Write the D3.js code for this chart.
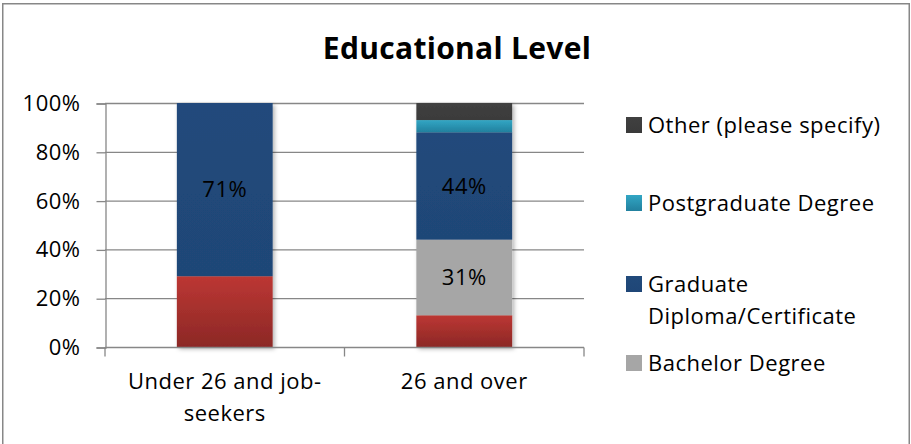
<!DOCTYPE html>
<html>
<head>
<meta charset="utf-8">
<script src="https://cdn.jsdelivr.net/npm/d3@7"></script>
<style>
  html, body { margin: 0; padding: 0; background: #fff; }
  svg { display: block; font-family: "Open Sans", "Noto Sans", sans-serif; }
</style>
</head>
<body>
<svg id="chart" width="911" height="444"></svg>
<script>
// Categories and shares (percent) for each qualification level
const categories = ["Under 26 and job-seekers", "26 and over"];
const categoryLines = [["Under 26 and job-", "seekers"], ["26 and over"]];
const seriesNames = ["High School", "Bachelor Degree", "Graduate Diploma/Certificate", "Postgraduate Degree", "Other (please specify)"];
const highSchool = [29, 13];
const bachelor = [0, 31];
const graduate = [71, 44];
const postgraduate = [0, 5];
const other = [0, 7];
const yTicks = [0, 20, 40, 60, 80, 100];
const legendNames = ["Other (please specify)", "Postgraduate Degree", "Graduate Diploma/Certificate", "Bachelor Degree"];
const labelledSeries = ["Bachelor Degree", "Graduate Diploma/Certificate"];

const seriesValues = [highSchool, bachelor, graduate, postgraduate, other];
const rows = categories.map((c, i) => {
  const r = { category: c };
  seriesNames.forEach((s, k) => { r[s] = seriesValues[k][i]; });
  return r;
});

const FS = 22;       // body text size
const LS = 0.5;      // body letter spacing

const svg = d3.select("#chart");
const defs = svg.append("defs");

// Colour ramps for each series (top to bottom of a segment)
const palette = {
  "High School": ["#bc3733", "#8c2826"],
  "Bachelor Degree": ["#a6a6a6", "#a6a6a6"],
  "Graduate Diploma/Certificate": ["#214a7b", "#1f4677"],
  "Postgraduate Degree": ["#32a6c4", "#22809e"],
  "Other (please specify)": ["#404040", "#3a3a3a"]
};
seriesNames.forEach((s, k) => {
  const g = defs.append("linearGradient").attr("id", "grad" + k)
    .attr("x1", 0).attr("y1", 0).attr("x2", 0).attr("y2", 1);
  g.append("stop").attr("offset", "0%").attr("stop-color", palette[s][0]);
  g.append("stop").attr("offset", "100%").attr("stop-color", palette[s][1]);
});
const shadow = defs.append("filter").attr("id", "shadow")
  .attr("x", "-20%").attr("y", "-10%").attr("width", "140%").attr("height", "120%");
shadow.append("feDropShadow").attr("dx", 2).attr("dy", 2).attr("stdDeviation", 2)
  .attr("flood-color", "#000").attr("flood-opacity", 0.3);

// Outer frame
svg.append("rect").attr("x", 2.75).attr("y", 3.75).attr("width", 906.5).attr("height", 460)
  .attr("fill", "#fff").attr("stroke", "#878787").attr("stroke-width", 1.5);

// Title
svg.append("text").attr("x", 457).attr("y", 59).attr("text-anchor", "middle")
  .attr("font-size", 30).attr("font-weight", "bold").attr("letter-spacing", 0.3).attr("fill", "#000")
  .text("Educational Level");

const plot = { left: 105, right: 584, top: 103, bottom: 347 };
const x = d3.scaleBand().domain(categories).range([plot.left, plot.right])
  .paddingInner(0.6).paddingOuter(0.3);
const y = d3.scaleLinear().domain([0, 100]).range([plot.bottom, plot.top]);

// Horizontal gridlines
svg.append("g").selectAll("line").data(yTicks.filter(t => t > 0)).join("line")
  .attr("x1", plot.left).attr("x2", plot.right)
  .attr("y1", d => y(d) + 0.5).attr("y2", d => y(d) + 0.5)
  .attr("stroke", "#878787").attr("stroke-width", 1.3);

// Stacked bars
const stack = d3.stack().keys(seriesNames);
const layers = stack(rows);
const barG = svg.append("g").attr("filter", "url(#shadow)");
layers.forEach((layer, k) => {
  barG.append("g").selectAll("rect").data(layer.filter(d => d[1] > d[0])).join("rect")
    .attr("x", d => x(d.data.category))
    .attr("width", x.bandwidth())
    .attr("y", d => y(d[1]))
    .attr("height", d => y(d[0]) - y(d[1]))
    .attr("fill", "url(#grad" + k + ")");
});

// Value labels
layers.forEach(layer => {
  if (!labelledSeries.includes(layer.key)) return;
  svg.append("g").selectAll("text").data(layer.filter(d => d[1] > d[0])).join("text")
    .attr("x", d => x(d.data.category) + x.bandwidth() / 2)
    .attr("y", d => (y(d[0]) + y(d[1])) / 2)
    .attr("dy", "0.35em").attr("text-anchor", "middle")
    .attr("font-size", FS).attr("letter-spacing", LS).attr("fill", "#000")
    .text(d => (d[1] - d[0]) + "%");
});

// Y axis
const yAxis = d3.axisLeft(y).tickValues(yTicks).tickFormat(d => d + "%").tickSize(9).tickPadding(16);
const yG = svg.append("g").attr("transform", `translate(${plot.left + 0.5},0.5)`).call(yAxis);
yG.select(".domain").attr("stroke", "#878787").attr("stroke-width", 1.3);
yG.selectAll(".tick line").attr("stroke", "#878787").attr("stroke-width", 1.3);
yG.selectAll(".tick text").attr("font-size", FS).attr("letter-spacing", LS).attr("fill", "#000")
  .attr("font-family", "'Open Sans', sans-serif");

// X axis
const xG = svg.append("g").attr("transform", `translate(0,${plot.bottom + 0.5})`);
xG.append("line").attr("x1", plot.left).attr("x2", plot.right)
  .attr("stroke", "#878787").attr("stroke-width", 1.3);
const xBoundaries = [plot.left, plot.left + x.step(), plot.right];
xG.selectAll("line.tk").data(xBoundaries).join("line").attr("class", "tk")
  .attr("x1", d => d).attr("x2", d => d).attr("y1", 0).attr("y2", 9)
  .attr("stroke", "#878787").attr("stroke-width", 1.3);
categories.forEach((c, i) => {
  const t = xG.append("text").attr("text-anchor", "middle").attr("font-size", FS)
    .attr("letter-spacing", LS).attr("fill", "#000")
    .attr("transform", `translate(${x(c) + x.bandwidth() / 2},41)`);
  categoryLines[i].forEach((line, j) => {
    t.append("tspan").attr("x", 0).attr("y", j * 32).text(line);
  });
});

// Legend
const legendColor = {
  "Other (please specify)": 4, "Postgraduate Degree": 3,
  "Graduate Diploma/Certificate": 2, "Bachelor Degree": 1
};
const legendLines = {
  "Other (please specify)": ["Other (please specify)"],
  "Postgraduate Degree": ["Postgraduate Degree"],
  "Graduate Diploma/Certificate": ["Graduate", "Diploma/Certificate"],
  "Bachelor Degree": ["Bachelor Degree"]
};
const legendY = [125, 203, 284, 363];
const lg = svg.append("g");
legendNames.forEach((n, i) => {
  const g = lg.append("g").attr("transform", `translate(626,${legendY[i]})`);
  g.append("rect").attr("x", 0).attr("y", -8).attr("width", 16).attr("height", 16)
    .attr("fill", "url(#grad" + legendColor[n] + ")");
  const t = g.append("text").attr("x", 22).attr("font-size", FS)
    .attr("letter-spacing", LS).attr("fill", "#000");
  legendLines[n].forEach((line, j) => {
    t.append("tspan").attr("x", 22).attr("y", j * 32).attr("dy", "0.35em").text(line);
  });
});
</script>
</body>
</html>
